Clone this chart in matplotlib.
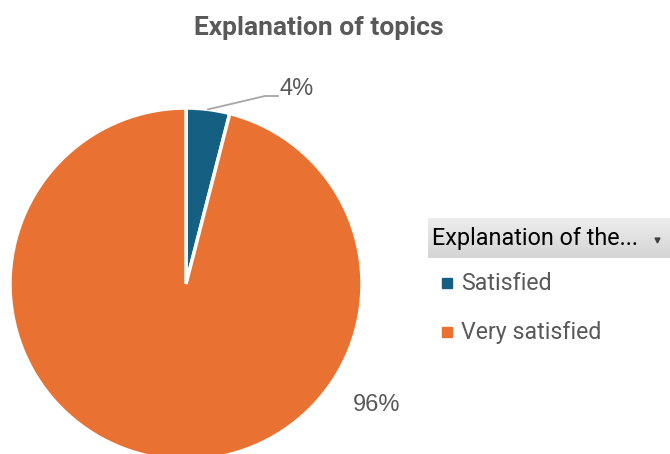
import numpy as np
import matplotlib.pyplot as plt
from matplotlib.colors import LinearSegmentedColormap

# data
categories = ['Satisfied', 'Very satisfied']
values = [4, 96]
colors = ['#156082', '#E97132']
title = 'Explanation of topics'
legend_title = 'Explanation of the...'

W, H = 670, 454
fig = plt.figure(figsize=(W / 100, H / 100), dpi=100)
ax = fig.add_axes([0, 0, 1, 1])


def Y(y):
    # top-down pixel -> axes coords
    return H - y


cx, cy, r = 186, 284, 176
wedges, _ = ax.pie(values, colors=colors, startangle=90, counterclock=False,
                   center=(cx, Y(cy)), radius=r,
                   wedgeprops=dict(edgecolor='white', linewidth=2.5))
ax.set_xlim(0, W)
ax.set_ylim(0, H)
ax.set_aspect('equal')
ax.axis('off')

lab_font = dict(family=['Liberation Sans', 'DejaVu Sans'], color='#595959', fontsize=17)

# 4% label with leader line
w0 = wedges[0]
mid = np.deg2rad((w0.theta1 + w0.theta2) / 2)
x0 = cx + r * np.cos(mid)
y0 = Y(cy) + r * np.sin(mid)
ax.plot([x0, 265, 278], [y0, Y(96), Y(96)], color='#A6A6A6', lw=1.3)
ax.text(280, Y(89), f'{values[0]}%', ha='left', va='center', **lab_font)

# 96% label
ax.text(377, Y(405), f'{values[1]}%', ha='center', va='center', **lab_font)

# title
ax.text(319, Y(28), title, ha='center', va='center', fontsize=19,
        fontweight='bold', color='#595959', family=['Roboto', 'DejaVu Sans'])

# legend header with gradient
grad = np.linspace(0, 1, 50).reshape(-1, 1)
cm = LinearSegmentedColormap.from_list('g', ['#EDEDED', '#D4D4D4'])
ax.imshow(grad, extent=(428, W, Y(258), Y(218)), cmap=cm, aspect='auto', zorder=1)
ax.text(432, Y(239), legend_title, ha='left', va='center', fontsize=16.8,
        color='black', family=['Roboto', 'DejaVu Sans'])
ax.plot([657], [Y(240)], marker='v', color='#404040', markersize=3.5)

# legend entries
for i, (name, c) in enumerate(zip(categories, colors)):
    yy = Y(283 + 49 * i)
    ax.plot([447], [yy], marker='s', color=c, markersize=6.5, linestyle='none')
    ax.text(461, yy, name, ha='left', va='center', fontsize=16.7,
            color='#595959', family=['Roboto', 'DejaVu Sans'])

ax.set_xlim(0, W)
ax.set_ylim(0, H)
fig.savefig('out.png', dpi=100)
